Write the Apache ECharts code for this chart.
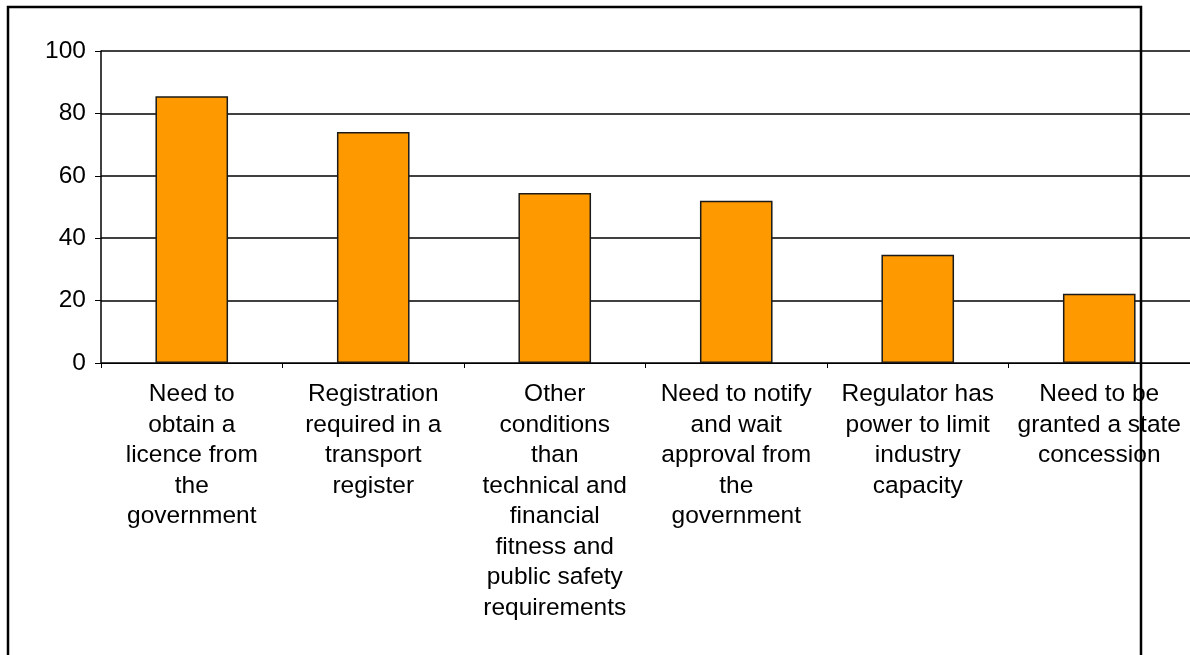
<!DOCTYPE html>
<html>
<head>
<meta charset="utf-8">
<script src="https://cdn.jsdelivr.net/npm/echarts@6/dist/echarts.min.js"></script>
<style>
html,body{margin:0;padding:0;background:#fff;}
#chart{width:1190px;height:655px;}
</style>
</head>
<body>
<div id="chart"></div>
<script>
const categories = [
  "Need to\nobtain a\nlicence from\nthe\ngovernment",
  "Registration\nrequired in a\ntransport\nregister",
  "Other\nconditions\nthan\ntechnical and\nfinancial\nfitness and\npublic safety\nrequirements",
  "Need to notify\nand wait\napproval from\nthe\ngovernment",
  "Regulator has\npower to limit\nindustry\ncapacity",
  "Need to be\ngranted a state\nconcession"
];
const values = [85.5, 74, 54.5, 52, 34.7, 22.2];
const yTicks = [0, 20, 40, 60, 80, 100];

const chart = echarts.init(document.getElementById('chart'), null, {renderer: 'canvas'});
const font = '"Liberation Sans", Arial, sans-serif';
chart.setOption({
  animation: false,
  backgroundColor: '#ffffff',
  grid: {left: 101, right: 0, top: 51, bottom: 292, containLabel: false},
  xAxis: {
    type: 'category',
    data: categories,
    axisLine: {show: true, lineStyle: {color: '#000', width: 1}},
    axisTick: {show: true, length: 5, lineStyle: {color: '#000', width: 1}},
    axisLabel: {
      interval: 0,
      margin: 16,
      fontFamily: font,
      fontSize: 24.5,
      lineHeight: 30.5,
      color: '#000',
      align: 'center'
    }
  },
  yAxis: {
    type: 'value',
    min: yTicks[0],
    max: yTicks[yTicks.length - 1],
    interval: 20,
    axisLine: {show: true, lineStyle: {color: '#000', width: 1.5}},
    axisTick: {show: true, length: 6, lineStyle: {color: '#000', width: 1}},
    splitLine: {show: true, lineStyle: {color: '#000', width: 1.6}},
    axisLabel: {
      margin: 15,
      fontFamily: font,
      fontSize: 24.5,
      color: '#000'
    }
  },
  series: [{
    type: 'bar',
    data: values,
    barCategoryGap: '60%',
    itemStyle: {color: '#FF9900', borderColor: '#1a1a1a', borderWidth: 1.5}
  }],
  graphic: [{
    type: 'rect',
    z: 100,
    silent: true,
    shape: {x: 8, y: 7, width: 1133, height: 700},
    style: {fill: null, stroke: '#000', lineWidth: 2.5}
  }]
});
</script>
</body>
</html>
